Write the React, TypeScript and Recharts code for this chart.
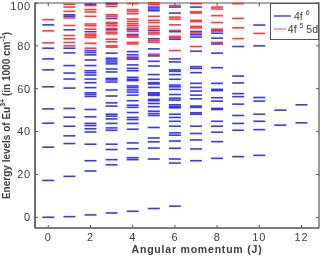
import { ScatterChart, Scatter, XAxis, YAxis, Legend, ReferenceArea, ReferenceLine } from 'recharts'

// energy levels (1000 cm^-1) of each J
const F6_LEVELS: number[][] = [
  [0, 17.2, 32.7, 43.9, 50.6, 60.9, 68.8, 73.9, 78.9, 89.8],
  [0.3, 19.1, 34.4, 38.0, 42.5, 46.7, 50.8, 60.3, 64.5, 67.3, 70.8, 76.7, 78.9, 87.5, 93.8, 94.5],
  [1.1, 21.6, 26.4, 34.1, 39.8, 41.3, 42.8, 43.8, 46.9, 50.3, 56.4, 57.3, 58.1, 60.5, 62.8, 64.5, 66.4, 67.5, 68.4, 70.8, 73.4, 75.8, 76.9, 77.8, 86.6, 99.4],
  [2.0, 24.5, 26.9, 31.6, 34.1, 40.6, 41.7, 43.8, 45.9, 47.2, 48.1, 51.9, 53.4, 56.6, 59.4, 63.1, 64.1, 64.8, 67.8, 69.2, 71.6, 72.5, 73.4, 74.2, 76.6, 87.5, 92.8, 99.8],
  [2.8, 26.9, 27.8, 32.0, 34.7, 41.1, 43.8, 45.6, 46.6, 48.9, 51.3, 52.3, 54.4, 57.0, 58.4, 59.4, 60.5, 61.3, 63.8, 64.4, 65.3, 68.4, 69.5, 71.1, 73.8, 74.7, 75.8, 77.3, 85.3, 87.5],
  [4.1, 27.2, 32.3, 35.2, 37.0, 41.9, 47.5, 48.4, 49.5, 51.6, 53.1, 54.4, 55.0, 56.9, 57.5, 58.1, 60.6, 62.2, 62.8, 64.4, 66.6, 70.6, 72.8, 75.3, 78.6, 83.3, 87.2, 96.4, 97.2, 98.1],
  [5.2, 25.3, 27.2, 32.2, 35.6, 38.3, 39.4, 42.5, 44.8, 46.6, 48.1, 51.1, 51.7, 52.5, 54.7, 55.6, 57.3, 59.7, 60.9, 61.7, 64.4, 66.6, 68.1, 68.8, 72.5, 73.9, 83.1, 86.6, 95.3, 98.1],
  [26.4, 31.9, 36.1, 39.1, 42.5, 48.1, 48.8, 51.3, 51.9, 55.3, 57.0, 58.9, 60.6, 62.5, 67.5, 69.5, 70.3, 77.5, 84.1, 85.2, 86.7, 98.1],
  [27.5, 35.3, 39.7, 42.5, 44.8, 50.3, 50.8, 54.2, 55.8, 59.1, 59.7, 62.5, 69.8, 76.6, 80.9, 83.6, 85.9, 87.0],
  [28.3, 40.6, 43.8, 47.5, 52.8, 56.3, 57.7, 62.7, 65.9, 79.7],
  [28.9, 40.9, 44.8, 48.1, 54.2, 55.9, 80.0, 89.7],
  [43.0, 50.0],
  [44.1, 52.5],
]

const F5D_LEVELS: number[][] = [
  [81.4, 87.0, 92.2],
  [80.0, 81.6, 83.3, 84.8, 89.5, 93.0, 96.1, 98.1, 99.4],
  [78.9, 81.2, 83.9, 84.7, 85.5, 87.8, 89.4, 90.2, 93.8, 95.8, 96.9, 98.8],
  [79.4, 80.0, 81.9, 83.1, 85.6, 86.4, 88.1, 89.4, 90.3, 90.9, 93.8, 94.5, 98.4, 99.4],
  [74.2, 80.9, 81.6, 84.1, 84.7, 86.7, 88.3, 89.4, 90.3, 91.4, 92.5, 95.0, 96.1, 96.9, 99.7],
  [76.1, 81.7, 82.5, 85.5, 86.3, 88.1, 89.1, 90.9, 91.9, 93.8, 99.2, 100],
  [77.8, 83.8, 84.4, 87.2, 89.8, 92.5, 93.4, 98.8],
  [79.7, 86.0, 88.4, 89.1, 91.3, 91.9, 95.3, 95.9, 99.7],
  [81.6, 87.2, 87.8, 90.9, 94.1, 97.2, 98.1],
  [83.4, 88.4, 92.8, 99.7],
  [85.8],
]

const X_TICKS = [0, 2, 4, 6, 8, 10, 12]
const Y_TICKS = [0, 20, 40, 60, 80, 100]
const X_DOMAIN = [-0.63, 12.83]
const Y_DOMAIN = [-5, 100]
// inward tick length, in axis units (about 3px)
const X_TICK_LEN = 1.4
const Y_TICK_LEN = 0.14

const toPoints = (levels: number[][]) =>
  levels.flatMap((row, j) => row.map((e) => ({ j, e })))

const f6Data = toPoints(F6_LEVELS)
const f5dData = toPoints(F5D_LEVELS)

const BLUE = '#1414ff'
const RED = '#ff1a1a'
const AXIS = '#555555'
const TEXT = '#404040'
const FONT = '"Liberation Sans", Arial, sans-serif'

function LevelMark(props: any) {
  const { cx, cy, fill } = props
  if (cx == null || cy == null) return <g />
  return <line x1={cx - 6} x2={cx + 6} y1={cy} y2={cy} stroke={fill} strokeWidth={1.6} strokeOpacity={0.85} />
}

function YLabel(props: any) {
  const { viewBox } = props
  const cy = viewBox.y + viewBox.height / 2
  return (
    <text
      x={6}
      y={cy}
      transform={`rotate(-90, 6, ${cy})`}
      textAnchor="middle"
      dominantBaseline="central"
      fontSize={10}
      fontWeight="bold"
      fill={TEXT}
      fontFamily={FONT}
    >
      Energy levels of Eu<tspan dy={-4} fontSize={7}>3+</tspan>
      <tspan dy={4}> (in 1000 cm</tspan>
      <tspan dy={-4} fontSize={7}>-1</tspan>
      <tspan dy={4}>)</tspan>
    </text>
  )
}

function XLabel() {
  return (
    <text x={197} y={249} textAnchor="middle" dominantBaseline="central" fontSize={10.5} fontWeight="bold" letterSpacing={0.8} fill={TEXT} fontFamily={FONT}>
      Angular momentum (J)
    </text>
  )
}

function LegendBox() {
  const row = { display: 'flex', alignItems: 'center', height: 13 }
  return (
    <div style={{ border: `1px solid ${AXIS}`, background: '#fff', width: 49, height: 37, boxSizing: 'border-box', fontFamily: FONT, fontSize: 10.5, color: TEXT, paddingTop: 5, paddingLeft: 3, whiteSpace: 'nowrap', overflow: 'hidden' }}>
      <div style={row}>
        <svg width={18} height={4} style={{ marginRight: 2 }}><line x1={0} x2={17} y1={2} y2={2} stroke={BLUE} strokeWidth={1.2} /></svg>
        <span>4f <sup style={{ fontSize: 7 }}>6</sup></span>
      </div>
      <div style={row}>
        <svg width={18} height={4} style={{ marginRight: 2 }}><line x1={0} x2={17} y1={2} y2={2} stroke="#ff6060" strokeWidth={1.2} /></svg>
        <span>4f <sup style={{ fontSize: 7 }}>5</sup> 5d</span>
      </div>
    </div>
  )
}

const tickStyle = { fill: TEXT, fontSize: 11, fontFamily: FONT, letterSpacing: 0.8 }

export default function App() {
  const [x0, x1] = X_DOMAIN
  const [y0, y1] = Y_DOMAIN
  return (
    <div style={{ position: 'fixed', left: 0, top: 0 }}>
      <ScatterChart width={320} height={256} margin={{ top: 3, right: 1, bottom: 0, left: 0 }}>
        <XAxis
          xAxisId="b"
          dataKey="j"
          type="number"
          domain={X_DOMAIN}
          ticks={X_TICKS}
          height={28}
          tickLine={false}
          tickSize={3}
          tickMargin={2}
          axisLine={{ stroke: AXIS, strokeWidth: 1.2 }}
          tick={tickStyle}
          label={{ content: XLabel }}
        />
        <YAxis
          yAxisId="l"
          dataKey="e"
          type="number"
          domain={Y_DOMAIN}
          ticks={Y_TICKS}
          width={35}
          tickLine={false}
          tickSize={2}
          tickMargin={2}
          axisLine={{ stroke: AXIS, strokeWidth: 1.2 }}
          tick={tickStyle}
          label={{ content: YLabel }}
        />
        <ReferenceArea xAxisId="b" yAxisId="l" x1={x0} x2={x1} y1={y0} y2={y1} fill="none" stroke={AXIS} strokeWidth={1.2} ifOverflow="visible" />
        {X_TICKS.map((t) => (
          <ReferenceLine key={`xb${t}`} xAxisId="b" yAxisId="l" segment={[{ x: t, y: y0 }, { x: t, y: y0 + X_TICK_LEN }]} stroke={AXIS} ifOverflow="visible" />
        ))}
        {X_TICKS.map((t) => (
          <ReferenceLine key={`xt${t}`} xAxisId="b" yAxisId="l" segment={[{ x: t, y: y1 }, { x: t, y: y1 - X_TICK_LEN }]} stroke={AXIS} ifOverflow="visible" />
        ))}
        {Y_TICKS.map((t) => (
          <ReferenceLine key={`yl${t}`} xAxisId="b" yAxisId="l" segment={[{ x: x0, y: t }, { x: x0 + Y_TICK_LEN, y: t }]} stroke={AXIS} ifOverflow="visible" />
        ))}
        {Y_TICKS.map((t) => (
          <ReferenceLine key={`yr${t}`} xAxisId="b" yAxisId="l" segment={[{ x: x1, y: t }, { x: x1 - Y_TICK_LEN, y: t }]} stroke={AXIS} ifOverflow="visible" />
        ))}
        <Legend
          layout="horizontal"
          verticalAlign="middle"
          align="center"
          content={LegendBox}
          wrapperStyle={{ top: 3, left: 270, width: 49, height: 37 }}
        />
        <Scatter name="4f6" data={f6Data} xAxisId="b" yAxisId="l" fill={BLUE} shape={LevelMark} isAnimationActive={false} />
        <Scatter name="4f5 5d" data={f5dData} xAxisId="b" yAxisId="l" fill={RED} shape={LevelMark} isAnimationActive={false} />
      </ScatterChart>
    </div>
  )
}
